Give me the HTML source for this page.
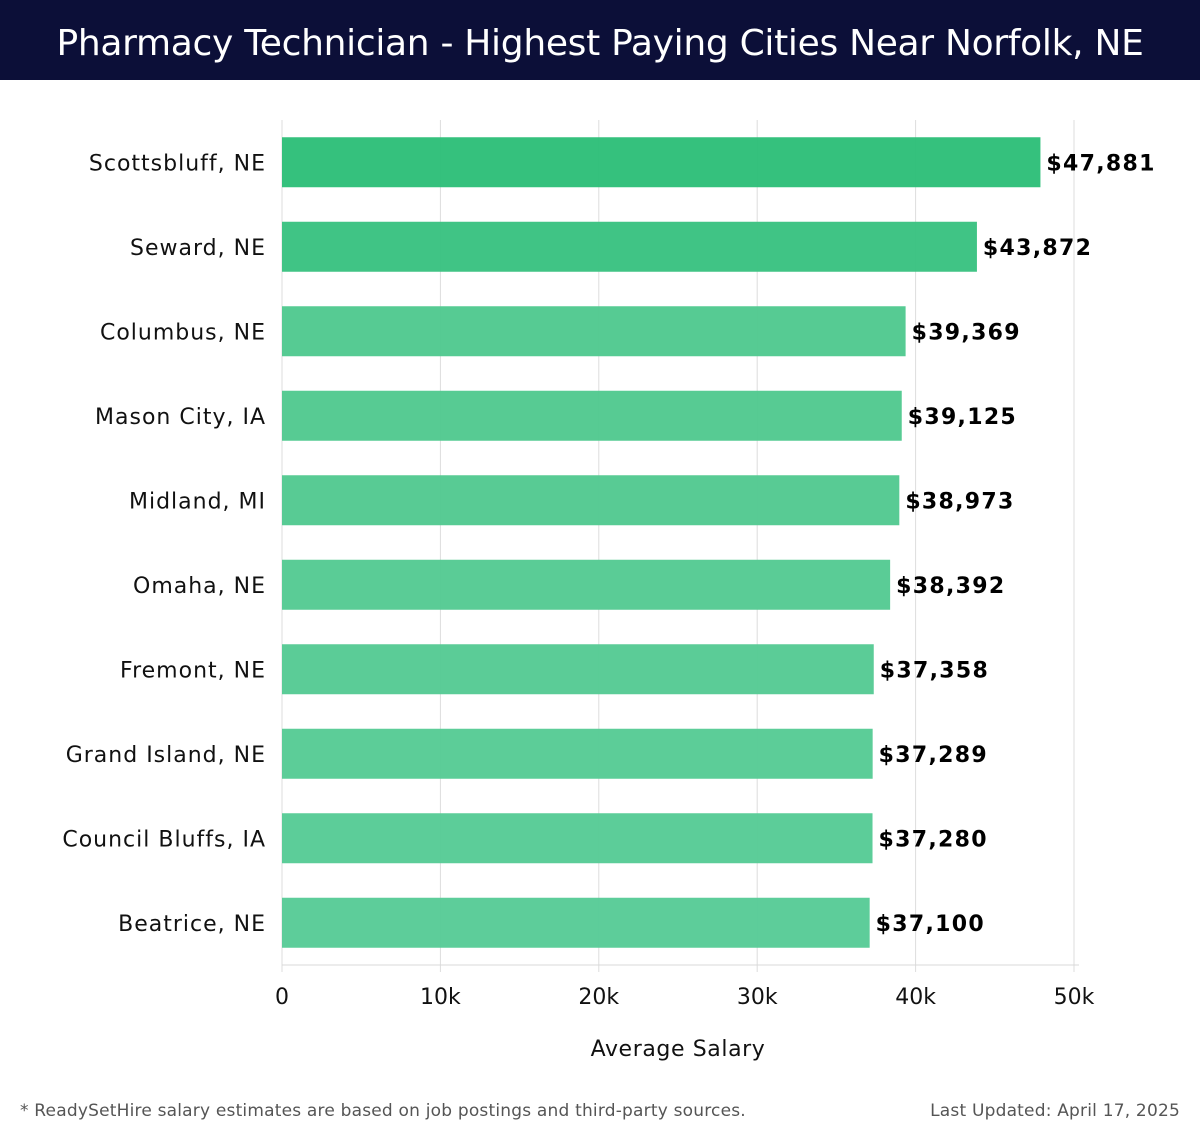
<!DOCTYPE html>
<html><head><meta charset="utf-8"><style>
body{margin:0;background:#fff;width:1200px;height:1140px;overflow:hidden;font-family:"DejaVu Sans","Liberation Sans",sans-serif}
#hdr{position:absolute;left:0;top:0;width:1200px;height:80px;background:#0c0f38;color:#fff;font-size:36px;text-align:center;line-height:88px;font-family:"DejaVu Sans","Liberation Sans",sans-serif;letter-spacing:-0.3px}
.foot{position:absolute;top:1101px;font-size:17px;color:#555;font-family:"DejaVu Sans","Liberation Sans",sans-serif;letter-spacing:0.2px}
</style></head><body>
<div id="hdr">Pharmacy Technician - Highest Paying Cities Near Norfolk, NE</div>
<svg id="chart" width="1200" height="1140" style="position:absolute;left:0;top:0"></svg>
<div class="foot" style="left:20px">* ReadySetHire salary estimates are based on job postings and third-party sources.</div>
<div class="foot" style="right:20px">Last Updated: April 17, 2025</div>
<script>
const categories=["Scottsbluff, NE","Seward, NE","Columbus, NE","Mason City, IA","Midland, MI","Omaha, NE","Fremont, NE","Grand Island, NE","Council Bluffs, IA","Beatrice, NE"];
const values=[47881,43872,39369,39125,38973,38392,37358,37289,37280,37100];
const ticks=[0,10000,20000,30000,40000,50000];
const tickLabels=["0","10k","20k","30k","40k","50k"];
const colors=["#2dbe78","#38c280","#4fc98f","#50c98f","#51c990","#53ca92","#54ca93","#55cb94","#55cb95","#56cb96"];
const svg=document.getElementById('chart');
const NS='http://www.w3.org/2000/svg';
const plotX0=282,plotX1=1074,plotTop=120,plotBot=965;
const xs=v=>plotX0+(v/50000)*(plotX1-plotX0);
const band=(plotBot-plotTop)/categories.length;
const yc=i=>plotTop+band*(i+0.5);
function mk(t,a,txt){const e=document.createElementNS(NS,t);for(const k in a)e.setAttribute(k,a[k]);if(txt!==undefined)e.textContent=txt;svg.appendChild(e);return e;}
ticks.forEach((t,i)=>{
 const g=mk('line',{x1:xs(t),x2:xs(t),y1:plotTop,y2:plotBot+7,stroke:'#dddddd','stroke-width':1});
 
 
 const l=mk('text',{x:xs(t),y:1004,'text-anchor':'middle','font-size':22,fill:'#111'},tickLabels[i]);
 
 
});
const ax=mk('line',{x1:plotX0,x2:plotX1+5,y1:plotBot,y2:plotBot,stroke:'#d8d8d8','stroke-width':1});


categories.forEach((c,i)=>{
 const y=yc(i);
 const r=mk('rect',{x:plotX0,y:y-25,width:xs(values[i])-plotX0,height:50,fill:colors[i],'fill-opacity':0.96});
 
 
 const l=mk('text',{x:266,y:y+8,'text-anchor':'end','font-size':22,fill:'#111','letter-spacing':'1'},c);
 
 
 const v=mk('text',{x:xs(values[i])+6,y:y+8,'font-size':22,'font-weight':'bold',fill:'#000','letter-spacing':'1.3'},'$'+values[i].toLocaleString('en-US'));
 
 
});
const t=mk('text',{x:(plotX0+plotX1)/2,y:1056,'text-anchor':'middle','font-size':22,fill:'#111','letter-spacing':'0.6'},'Average Salary');


</script>
</body></html>
